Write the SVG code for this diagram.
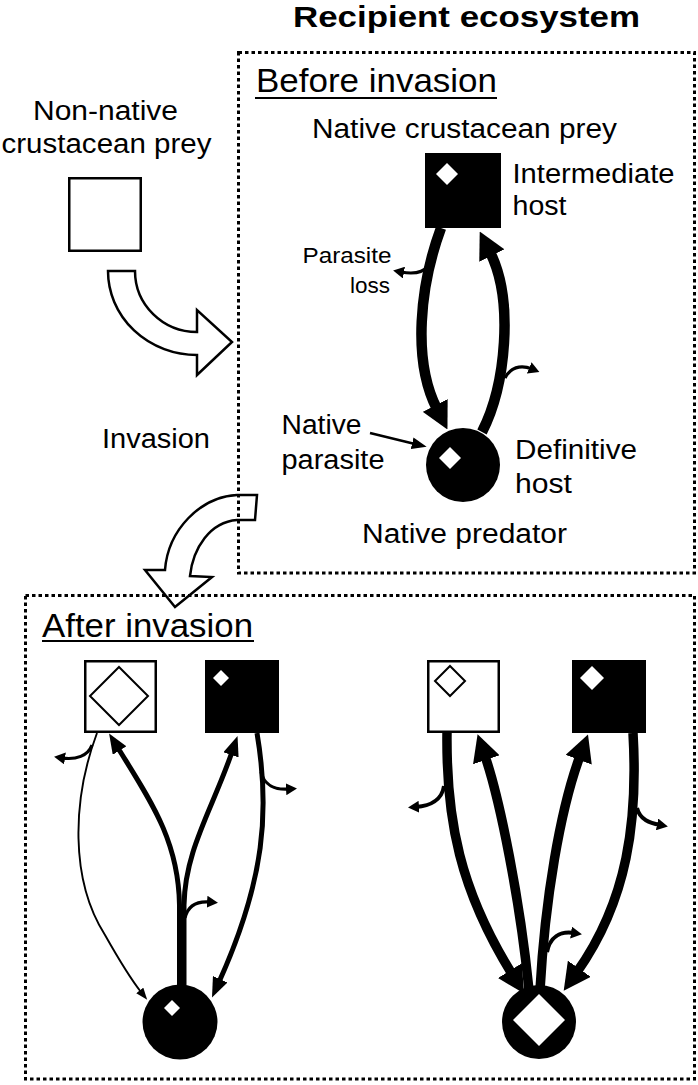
<svg xmlns="http://www.w3.org/2000/svg" width="698" height="1085" viewBox="0 0 698 1085">
<style>
.dot{fill:none;stroke:#000;stroke-width:3;stroke-dasharray:3.5 3}
.hollow{fill:none;stroke:#000;stroke-width:2.5;stroke-linejoin:miter}
.c{fill:none;stroke:#000;stroke-linecap:butt}
.w10{stroke-width:10.5}
.w9{stroke-width:9.5}
.w5{stroke-width:5}
.w4{stroke-width:4}
.w3{stroke-width:3.2}
.w2{stroke-width:1.9}
.open{fill:#fff;stroke:#000;stroke-width:2.5}
.solid{fill:#000}
.wd{fill:#fff}
.od{fill:none;stroke:#000;stroke-width:2}
text{font-family:"Liberation Sans",Arial,Helvetica,sans-serif;fill:#000}
.t{font-size:27px}
.h{font-size:33px}
.ul{stroke:#000;stroke-width:2}
</style>
<defs>
<marker id="mBig" markerUnits="userSpaceOnUse" viewBox="0 0 27 28" markerWidth="27" markerHeight="28" refX="4" refY="14" orient="auto"><path d="M0,0 L27,14 L0,28 Z"/></marker>
<marker id="mMed" markerUnits="userSpaceOnUse" viewBox="0 0 20 16" markerWidth="20" markerHeight="16" refX="3" refY="8" orient="auto"><path d="M0,0 L20,8 L0,16 Z"/></marker>
<marker id="mThin" markerUnits="userSpaceOnUse" viewBox="0 0 12 9" markerWidth="12" markerHeight="9" refX="2" refY="4.5" orient="auto"><path d="M0,0 L12,4.5 L0,9 Z"/></marker>
<marker id="mSmall" markerUnits="userSpaceOnUse" viewBox="0 0 11 12" markerWidth="11" markerHeight="12" refX="3" refY="6" orient="auto"><path d="M0,0 L11,6 L0,12 Z"/></marker>
<marker id="mPtr" markerUnits="userSpaceOnUse" viewBox="0 0 15 12" markerWidth="15" markerHeight="12" refX="3" refY="6" orient="auto"><path d="M0,0 L15,6 L0,12 Z"/></marker>
</defs>
<rect width="698" height="1085" fill="#fff"/>

<g id="frames">
<rect class="dot" x="238.5" y="52.5" width="456" height="520.5"/>
<rect class="dot" x="25.5" y="595.5" width="669" height="483.5"/>
</g>

<g id="titles">
<text x="293" y="27" font-size="29" font-weight="bold" textLength="347" lengthAdjust="spacingAndGlyphs">Recipient ecosystem</text>
<text class="h" x="256" y="92" textLength="241" lengthAdjust="spacingAndGlyphs">Before invasion</text>
<line class="ul" x1="255" y1="98" x2="497" y2="98"/>
<text class="h" x="42" y="637" textLength="211" lengthAdjust="spacingAndGlyphs">After invasion</text>
<line class="ul" x1="42" y1="641" x2="254" y2="641"/>
</g>

<g id="invasion-arrows">
<path class="hollow" d="M108,271 L135,271 A62,61 0 0 0 197,332 L197,310 L232,342 L197,375 L197,355 A89,84 0 0 1 108,271 Z"/>
<path class="hollow" d="M257,495 L237,495 C200,497 168,530 165,570 L145,570 L175,607 L212,577 L190,576 C193,548 210,522 237,520 L255,520 Z"/>
<text class="t" x="102" y="448" textLength="108" lengthAdjust="spacingAndGlyphs">Invasion</text>
</g>

<g id="connectors">
<!-- before invasion -->
<path class="c w10" d="M441,228 C420,285 412,360 437,409" marker-end="url(#mBig)"/>
<path class="c w10" d="M482,432 C506,385 514,300 490,252" marker-end="url(#mBig)"/>
<path class="c w3" d="M428,266 C422,274 412,274 401,272" marker-end="url(#mSmall)"/>
<path class="c w3" d="M505,378 C510,368 520,364 532,369" marker-end="url(#mSmall)"/>
<path class="c" d="M370,433 L415,444" stroke-width="2.5" marker-end="url(#mPtr)"/>
<!-- after invasion, left -->
<path class="c w2" d="M97,733 C72,800 70,880 105,935 C118,958 130,978 141,992" marker-end="url(#mThin)"/>
<path class="c w3" d="M92,745 C88,756 76,760 62,758" marker-end="url(#mSmall)"/>
<path class="c w5" d="M179.5,988 L179.5,905 C178.5,840 150,800 118,748" marker-end="url(#mMed)"/>
<path class="c w5" d="M184,988 L184,905 C185,850 212,810 232,752" marker-end="url(#mMed)"/>
<path class="c w5" d="M257,733 C270,810 265,880 219,982" marker-end="url(#mMed)"/>
<path class="c w3" d="M261,772 C264,785 275,790 289,789" marker-end="url(#mSmall)"/>
<path class="c w3" d="M185,918 C188,905 198,901 210,902" marker-end="url(#mSmall)"/>
<!-- after invasion, right -->
<path class="c w9" d="M447,733 C446,820 460,890 512,974" marker-end="url(#mBig)"/>
<path class="c w4" d="M444,786 C442,800 430,806 416,807" marker-end="url(#mSmall)"/>
<path class="c w9" d="M529,990 C520,900 500,800 485,756" marker-end="url(#mBig)"/>
<path class="c w9" d="M540,990 C545,900 560,810 580,756" marker-end="url(#mBig)"/>
<path class="c w9" d="M633,733 C638,820 628,900 577,972" marker-end="url(#mBig)"/>
<path class="c w4" d="M637,808 C640,820 650,823 660,825" marker-end="url(#mSmall)"/>
<path class="c w4" d="M547,952 C550,937 560,931 574,933" marker-end="url(#mSmall)"/>
</g>

<g id="nonnative-prey">
<rect class="open" x="69.25" y="178.25" width="71.5" height="72.5"/>
<text class="t" x="33" y="120" textLength="145" lengthAdjust="spacingAndGlyphs">Non-native</text>
<text class="t" x="1.5" y="153" textLength="210" lengthAdjust="spacingAndGlyphs">crustacean prey</text>
</g>

<g id="before-prey">
<rect class="solid" x="425" y="153" width="76" height="75"/>
<path class="wd" d="M447,163 L458,174 L447,185 L436,174 Z"/>
<text class="t" x="312" y="138" textLength="305" lengthAdjust="spacingAndGlyphs">Native crustacean prey</text>
<text class="t" x="512.5" y="183" font-size="28" textLength="162" lengthAdjust="spacingAndGlyphs">Intermediate</text>
<text class="t" x="512.5" y="215" font-size="28" textLength="54" lengthAdjust="spacingAndGlyphs">host</text>
</g>

<g id="before-loss-label">
<text x="302.5" y="263" font-size="22" textLength="89" lengthAdjust="spacingAndGlyphs">Parasite</text>
<text x="350" y="293" font-size="22" textLength="40" lengthAdjust="spacingAndGlyphs">loss</text>
</g>

<g id="before-predator">
<circle class="solid" cx="463" cy="465" r="37"/>
<path class="wd" d="M450,447 L461,458 L450,469 L439,458 Z"/>
<text class="t" x="281.5" y="433.5" textLength="80" lengthAdjust="spacingAndGlyphs">Native</text>
<text class="t" x="281.5" y="468.5" textLength="103" lengthAdjust="spacingAndGlyphs">parasite</text>
<text class="t" x="515" y="459" textLength="122" lengthAdjust="spacingAndGlyphs">Definitive</text>
<text class="t" x="515" y="493" textLength="57" lengthAdjust="spacingAndGlyphs">host</text>
<text class="t" x="362" y="543" textLength="205" lengthAdjust="spacingAndGlyphs">Native predator</text>
</g>

<g id="left-nonnative-prey">
<rect class="open" x="85.25" y="661.25" width="70.5" height="70.5"/>
<path class="od" d="M119,667 L148,696 L119,725 L90,696 Z"/>
</g>
<g id="left-native-prey">
<rect class="solid" x="205" y="660" width="74" height="73"/>
<path class="wd" d="M221,670 L229,678 L221,686 L213,678 Z"/>
</g>
<g id="left-predator">
<circle class="solid" cx="180" cy="1022" r="37.5"/>
<path class="wd" d="M172,1000 L180,1008 L172,1016 L164,1008 Z"/>
</g>

<g id="right-nonnative-prey">
<rect class="open" x="428.25" y="661.25" width="70.5" height="70.5"/>
<path class="od" d="M450,666 L465,681 L450,696 L435,681 Z"/>
</g>
<g id="right-native-prey">
<rect class="solid" x="572" y="660" width="74" height="73"/>
<path class="wd" d="M592,666 L604,678 L592,690 L580,678 Z"/>
</g>
<g id="right-predator">
<circle class="solid" cx="539" cy="1022" r="37"/>
<path class="wd" d="M539,994 L565,1020 L539,1046 L513,1020 Z"/>
</g>
</svg>
